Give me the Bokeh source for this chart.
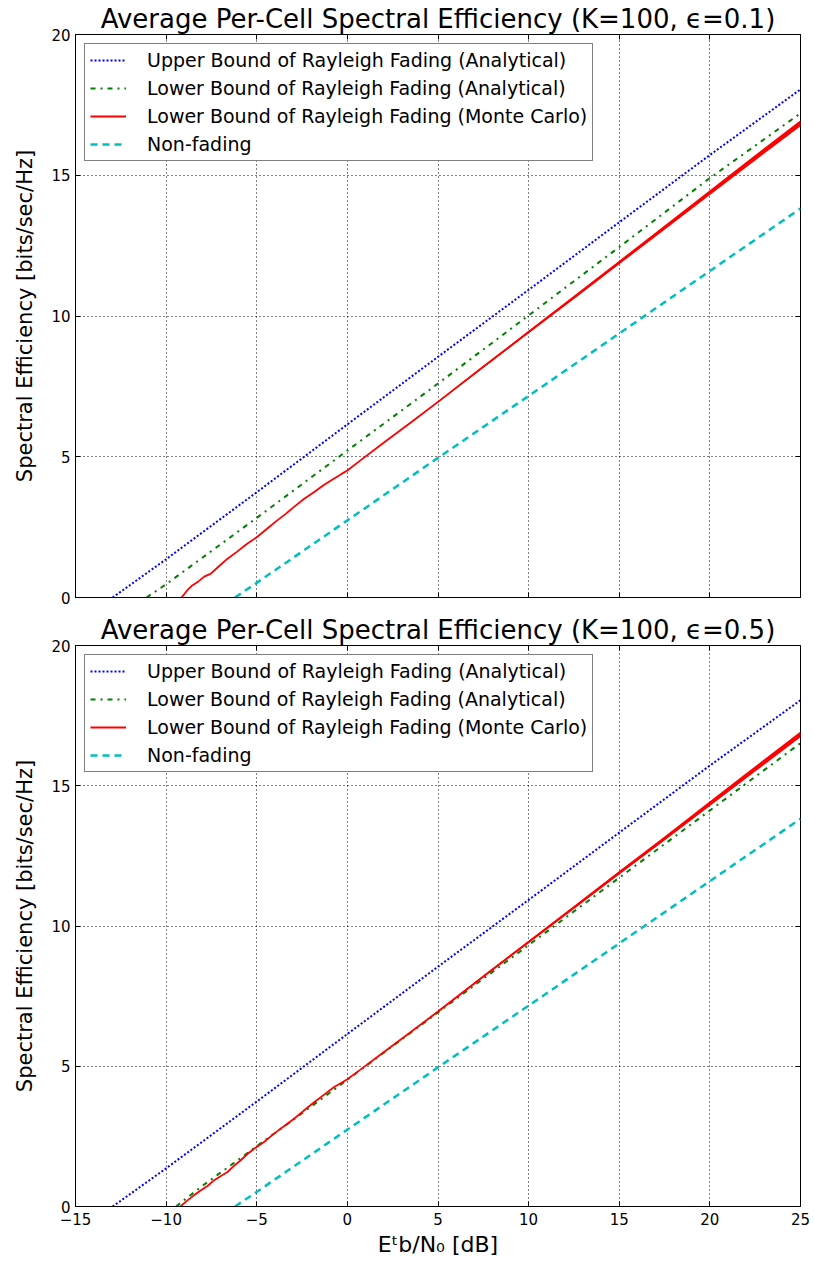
from bokeh.plotting import figure
from bokeh.layouts import column
from bokeh.models import (Legend, LegendItem, LinearAxis, FixedTicker, Range1d)
from bokeh.embed import file_html
from bokeh.resources import INLINE

# ---- data -----------------------------------------------------------------
x_ticks = [-15, -10, -5, 0, 5, 10, 15, 20, 25]
y_ticks = [0, 5, 10, 15, 20]

# Upper bound of Rayleigh fading (analytical) -- same in both panels
ub_x = [-12.95, -10, -5, 0, 5, 10, 15, 20, 25]
ub_y = [0.0, 1.36, 3.74, 6.15, 8.55, 10.93, 13.33, 15.72, 18.05]

# Lower bound of Rayleigh fading (analytical), eps = 0.1
lb01_x = [-11.08, -10, -5, 0, 5, 10, 15, 20, 25]
lb01_y = [0.0, 0.47, 2.83, 5.22, 7.6, 10.02, 12.45, 14.9, 17.2]

# Lower bound of Rayleigh fading (analytical), eps = 0.5
lb05_x = [-9.45, -8.1, -6.45, -4.79, -3.14, -1.48, 0, 5, 10, 15, 20, 25]
lb05_y = [0.0, 0.69, 1.46, 2.25, 3.02, 3.81, 4.52, 6.92, 9.32, 11.72, 14.12, 16.52]

# Lower bound of Rayleigh fading (Monte Carlo), eps = 0.1
mc01_x = [-9.15, -8.84, -8.56, -8.2, -7.9, -7.55, -7.1, -6.63, -6.1, -5.53,
          -5.0, -4.4, -3.87, -3.4, -2.96, -2.4, -1.85, -1.3, -0.75, -0.3,
          0.0, 0.72, 2.0, 3.5, 5.0, 7.5, 10.0, 12.5, 15.0, 17.5, 20.0, 22.5, 25.0]
mc01_y = [0.0, 0.25, 0.43, 0.58, 0.74, 0.84, 1.1, 1.37, 1.62, 1.91,
          2.14, 2.46, 2.74, 2.97, 3.21, 3.5, 3.74, 4.0, 4.22, 4.4,
          4.51, 4.87, 5.5, 6.22, 6.95, 8.2, 9.43, 10.66, 11.9, 13.14, 14.38, 15.62, 16.85]
# spread of the simulated trace (bits/sec/Hz)
mc01_spread = [0.0] * 21 + [0.0, 0.01, 0.03, 0.05, 0.07, 0.09, 0.11, 0.13, 0.15, 0.17, 0.19, 0.21]

# Lower bound of Rayleigh fading (Monte Carlo), eps = 0.5
mc05_x = [-9.21, -8.84, -8.5, -8.1, -7.7, -7.37, -7.0, -6.63, -6.3, -5.9,
          -5.5, -5.16, -4.6, -4.06, -3.5, -2.96, -2.4, -1.85, -1.3, -0.75,
          -0.3, 0.0, 0.72, 2.0, 3.5, 5.0, 7.5, 10.0, 12.5, 15.0, 17.5, 20.0, 22.5, 25.0]
mc05_y = [0.0, 0.21, 0.38, 0.57, 0.74, 0.93, 1.08, 1.22, 1.42, 1.64,
          1.88, 2.05, 2.3, 2.59, 2.86, 3.12, 3.42, 3.71, 3.98, 4.25,
          4.42, 4.54, 4.88, 5.5, 6.22, 6.95, 8.2, 9.43, 10.66, 11.9, 13.12, 14.36, 15.6, 16.83]
mc05_spread = [0.0] * 22 + [0.0, 0.01, 0.03, 0.05, 0.07, 0.09, 0.11, 0.13, 0.15, 0.17, 0.19, 0.21]

# Non-fading -- same in both panels
nf_x = [-6.2, -5, 0, 5, 10, 15, 20, 25]
nf_y = [0.0, 0.52, 2.74, 4.96, 7.16, 9.38, 11.6, 13.82]

labels = ["Upper Bound of Rayleigh Fading (Analytical)",
          "Lower Bound of Rayleigh Fading (Analytical)",
          "Lower Bound of Rayleigh Fading (Monte Carlo)",
          "Non-fading"]
title_fmt = "Average Per-Cell Spectral Efficiency (K=100, \u03f5={})"
x_label = "E\u1d57b/N\u2080 [dB]"

# ---- layout constants (pixels) -------------------------------------------
W = 814
LEFT, RIGHT = 75, 14
X0, X1 = -15, 25
Y0, Y1 = 0, 20
SANS = "DejaVu Sans"


def hide_labels(ax):
    ax.major_label_text_font_size = "0px"
    ax.major_label_text_color = None
    ax.major_label_standoff = 0


def make_panel(eps, lb_x, lb_y, mc_x, mc_y, mc_spread, height, top, bottom, show_x):
    p = figure(width=W, height=height, output_backend="svg", toolbar_location=None,
               x_range=Range1d(X0, X1), y_range=Range1d(Y0, Y1),
               min_border_left=LEFT, min_border_right=RIGHT,
               min_border_top=top, min_border_bottom=bottom,
               background_fill_color="white", border_fill_color="white")
    p.outline_line_color = "black"
    p.outline_line_width = 1

    # title
    p.title.text = title_fmt.format(eps)
    p.title.text_font = SANS
    p.title.text_font_size = "26px"
    p.title.text_font_style = "normal"
    p.title.text_color = "black"
    p.title.align = "center"
    p.title.standoff = 1

    # grid
    for g in (p.xgrid, p.ygrid):
        g.grid_line_color = "black"
        g.grid_line_dash = "1 3"
        g.grid_line_width = 1
    p.xgrid.ticker = FixedTicker(ticks=x_ticks)
    p.ygrid.ticker = FixedTicker(ticks=y_ticks)

    # axes with inward ticks
    for ax in (p.xaxis[0], p.yaxis[0]):
        ax.axis_line_color = "black"
        ax.major_tick_line_color = "black"
        ax.major_tick_in = 5
        ax.major_tick_out = 0
        ax.minor_tick_line_color = None
        ax.major_label_text_font = SANS
        ax.major_label_text_font_size = "15px"
        ax.major_label_text_color = "black"
    p.xaxis.ticker = FixedTicker(ticks=x_ticks)
    p.yaxis.ticker = FixedTicker(ticks=y_ticks)
    p.yaxis.major_label_standoff = 5
    p.yaxis.axis_label = "Spectral Efficiency [bits/sec/Hz]"
    p.yaxis.axis_label_text_font = SANS
    p.yaxis.axis_label_text_font_size = "21px"
    p.yaxis.axis_label_text_font_style = "normal"
    p.yaxis.axis_label_text_color = "black"
    p.yaxis.axis_label_standoff = 11
    if show_x:
        p.xaxis.major_label_standoff = 6
        p.xaxis.major_label_overrides = {t: str(t).replace("-", "\u2212") for t in x_ticks}
        p.xaxis.axis_label = x_label
        p.xaxis.axis_label_text_font = SANS
        p.xaxis.axis_label_text_font_size = "22px"
        p.xaxis.axis_label_text_font_style = "normal"
        p.xaxis.axis_label_text_color = "black"
        p.xaxis.axis_label_standoff = 4
    else:
        hide_labels(p.xaxis[0])

    for loc in ("above", "right"):
        ax = LinearAxis(ticker=FixedTicker(ticks=x_ticks if loc == "above" else y_ticks),
                        axis_line_color=None, major_tick_in=5, major_tick_out=0,
                        major_tick_line_color="black", minor_tick_line_color=None)
        hide_labels(ax)
        p.add_layout(ax, loc)

    # series
    r_ub = p.line(ub_x, ub_y, line_color="#0000ff", line_width=2, line_dash="2 2")
    r_lb = p.line(lb_x, lb_y, line_color="#008000", line_width=2, line_dash="5 5 2 5")
    lo = [v - s / 2 for v, s in zip(mc_y, mc_spread)]
    hi = [v + s / 2 for v, s in zip(mc_y, mc_spread)]
    p.varea(x=mc_x, y1=lo, y2=hi, fill_color="#ff0000")
    r_mc = p.line(mc_x, mc_y, line_color="#ff0000", line_width=1.8)
    r_nf = p.line(nf_x, nf_y, line_color="#00bfbf", line_width=2.5, line_dash="7 5")

    legend = Legend(items=[LegendItem(label=labels[0], renderers=[r_ub]),
                           LegendItem(label=labels[1], renderers=[r_lb]),
                           LegendItem(label=labels[2], renderers=[r_mc]),
                           LegendItem(label=labels[3], renderers=[r_nf])],
                    location="top_left", margin=9, padding=5, spacing=6,
                    label_text_font=SANS, label_text_font_size="19px",
                    label_text_color="black",
                    glyph_width=36, glyph_height=20, label_height=20, label_standoff=21,
                    border_line_color="black", border_line_width=1,
                    background_fill_color="white", background_fill_alpha=1)
    p.add_layout(legend)
    return p


p1 = make_panel("0.1", lb01_x, lb01_y, mc01_x, mc01_y, mc01_spread,
                height=610, top=34, bottom=13, show_x=False)
p2 = make_panel("0.5", lb05_x, lb05_y, mc05_x, mc05_y, mc05_spread,
                height=656, top=35, bottom=60, show_x=True)

layout = column(p1, p2, spacing=0)
open("out.html", "w").write(file_html(layout, INLINE))
